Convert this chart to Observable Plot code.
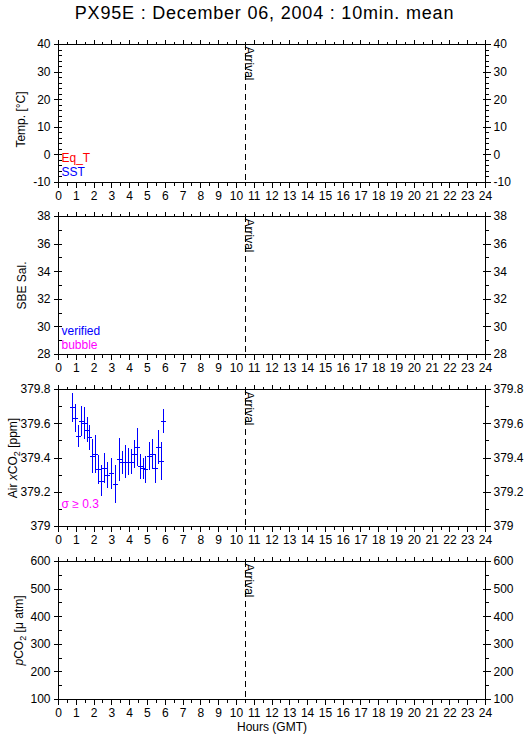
<!DOCTYPE html>
<html>
<head>
<meta charset="utf-8">
<script src="https://cdn.jsdelivr.net/npm/d3@7"></script>
<script src="https://cdn.jsdelivr.net/npm/@observablehq/plot@0.6"></script>
<style>
  body { margin: 0; background: #fff; }
  #wrap { position: relative; width: 529px; height: 739px; overflow: hidden; background: #fff;
          font-family: "Liberation Sans", Arial, Helvetica, sans-serif; }
  #title { position: absolute; left: 0; top: 3px; width: 529px; text-align: center;
           font-size: 18px; line-height: 20px; letter-spacing: 0.8px; color: #000; }
  #wrap svg { position: absolute; left: 0; }
</style>
</head>
<body>
<div id="wrap"><div id="title">PX95E : December 06, 2004 : 10min. mean</div></div>
<script>
// ---------------- data ----------------
const hourLabels = [0, 1, 2, 3, 4, 5, 6, 7, 8, 9, 10, 11, 12, 13, 14, 15, 16, 17, 18, 19, 20, 21, 22, 23, 24];
const arrivalHour = [10.5];

const tempTicks = [-10, 0, 10, 20, 30, 40];
const tempLabels = ["-10", "0", "10", "20", "30", "40"];
const salTicks = [28, 30, 32, 34, 36, 38];
const salLabels = ["28", "30", "32", "34", "36", "38"];
const xco2Ticks = [379, 379.2, 379.4, 379.6, 379.8];
const xco2Labels = ["379", "379.2", "379.4", "379.6", "379.8"];
const pco2Ticks = [100, 200, 300, 400, 500, 600];
const pco2Labels = ["100", "200", "300", "400", "500", "600"];

// Air xCO2 10-min means (hours GMT), value (ppm) and standard deviation (ppm)
const airHours = [0.80, 0.94, 1.12, 1.28, 1.44, 1.61, 1.74, 1.93, 2.08, 2.25, 2.40, 2.59, 2.75, 2.98, 3.19, 3.43,
                  3.60, 3.78, 3.95, 4.12, 4.27, 4.42, 4.61, 4.76, 4.91, 5.12, 5.28, 5.43, 5.60, 5.77, 5.92];
const airXCO2 = [379.693, 379.629, 379.527, 379.613, 379.600, 379.561, 379.518, 379.409, 379.419, 379.331, 379.265,
                 379.337, 379.298, 379.308, 379.245, 379.389, 379.372, 379.375, 379.375, 379.375, 379.419, 379.461,
                 379.350, 379.337, 379.331, 379.409, 379.419, 379.337, 379.461, 379.380, 379.613];
const airXCO2Sd = [0.084, 0.083, 0.065, 0.090, 0.092, 0.073, 0.073, 0.097, 0.112, 0.083, 0.092, 0.088, 0.078, 0.092,
                   0.112, 0.127, 0.068, 0.097, 0.078, 0.073, 0.083, 0.112, 0.073, 0.063, 0.078, 0.083, 0.088, 0.083,
                   0.097, 0.110, 0.071];

const tempLegend = [{label: "Eq_T", color: "#ff0000"}, {label: "SST", color: "#0000ff"}];
const salLegend = [{label: "verified", color: "#0000ff"}, {label: "bubble", color: "#ff00ff"}];
const xco2Legend = [{label: "σ ≥ 0.3", color: "#ff00ff"}];

// ---------------- helpers ----------------
const FONT = '"Liberation Sans", Arial, Helvetica, sans-serif';
const seg = (x1, y1, x2, y2) => ({draw(ctx) { ctx.moveTo(x1, y1); ctx.lineTo(x2, y2); }});
const tickMark = (data, opts, symbol) =>
  Plot.dot(data, {...opts, r: 1, symbol, fill: "none", stroke: "black", strokeWidth: 1});

function range(a, b, s) { const out = []; for (let v = a; v <= b + s / 1000; v += s) out.push(+v.toFixed(6)); return out; }

function richText(svg) {
  const specs = {
    "Air xCO2 [ppm]": [["Air "], ["x", "it"], ["CO"], ["2", "sub"], [" [ppm]"]],
    "pCO2 [μ atm]": [["p", "it"], ["CO"], ["2", "sub"], [" [μ atm]"]]
  };
  d3.select(svg).selectAll("text").each(function () {
    const parts = specs[this.textContent];
    if (!parts) return;
    this.textContent = "";
    let shift = 0;
    for (const [s, kind] of parts) {
      const ts = d3.select(this).append("tspan").text(s);
      if (kind === "it") ts.attr("font-style", "italic");
      if (kind === "sub") { ts.attr("font-size", 9).attr("dy", 3); shift = 3; }
      else if (shift) { ts.attr("dy", -shift); shift = 0; }
    }
  });
}

function panel(cfg) {
  const mt = 12, mb = cfg.last ? 40 : 22;
  const h = cfg.bottom - cfg.top;
  const height = mt + h + mb;
  const [y0, y1] = cfg.yDomain;
  const minorX = range(0.5, 23.5, 1);
  const marks = [
    Plot.frame({stroke: "black", strokeWidth: 1}),
    // x ticks, top (outward) and bottom (outward)
    tickMark(hourLabels, {x: d => d, frameAnchor: "top"}, seg(0, 0, 0, -5)),
    tickMark(minorX, {x: d => d, frameAnchor: "top"}, seg(0, 0, 0, -3)),
    tickMark(hourLabels, {x: d => d, frameAnchor: "bottom"}, seg(0, 0, 0, 5)),
    tickMark(minorX, {x: d => d, frameAnchor: "bottom"}, seg(0, 0, 0, 3)),
    // y ticks left and right
    tickMark(cfg.yMinor, {y: d => d, frameAnchor: "left"}, seg(0, 0, 3, 0)),
    tickMark(cfg.yTicks, {y: d => d, frameAnchor: "left"}, seg(-5, 0, 3, 0)),
    tickMark(cfg.yMinor, {y: d => d, frameAnchor: "right"}, seg(0, 0, 3, 0)),
    tickMark(cfg.yTicks, {y: d => d, frameAnchor: "right"}, seg(-3, 0, 5, 0)),
    // x tick labels
    Plot.text(hourLabels, {x: d => d, frameAnchor: "bottom", dy: 14, lineAnchor: "middle", textAnchor: "middle",
                           text: d => String(d), fontSize: 12, fill: "black"}),
    // y tick labels
    Plot.text(cfg.yTicks, {y: d => d, frameAnchor: "left", dx: -8, textAnchor: "end", lineAnchor: "middle",
                           text: (d, i) => cfg.yLabels[i], fontSize: 12, fill: "black"}),
    Plot.text(cfg.yTicks, {y: d => d, frameAnchor: "right", dx: 8, textAnchor: "start", lineAnchor: "middle",
                           text: (d, i) => cfg.yLabels[i], fontSize: 12, fill: "black"}),
    // y title
    Plot.text([cfg.yTitle], {frameAnchor: "left", dx: cfg.titleX - 58, dy: cfg.titleDy || 0, rotate: -90,
                             textAnchor: "middle", lineAnchor: "middle",
                             text: d => d, fontSize: 12, fill: "black"}),
    // arrival line + label
    Plot.ruleX(arrivalHour, {x: d => d, stroke: "black", strokeWidth: 1, strokeDasharray: "6,4"}),
    Plot.text(["Arrival"], {x: () => arrivalHour[0], frameAnchor: "top", rotate: 90, textAnchor: "start",
                            lineAnchor: "bottom", dy: 2, dx: 0, text: d => d, fontSize: 12, fill: "black"})
  ];
  (cfg.legend || []).forEach((it, i) => {
    marks.push(Plot.text([it.label], {frameAnchor: "bottom-left", dx: 3, dy: cfg.legendDy[i],
                                     textAnchor: "start", lineAnchor: "middle",
                                     text: d => d, fontSize: 12, fill: it.color}));
  });
  if (cfg.series) marks.push(...cfg.series);
  if (cfg.last) {
    marks.push(Plot.text(["Hours (GMT)"], {frameAnchor: "bottom", dy: 28, lineAnchor: "middle", textAnchor: "middle",
                                           text: d => d, fontSize: 12, fill: "black"}));
  }
  const svg = Plot.plot({
    width: 529, height,
    marginLeft: 58, marginRight: 44, marginTop: mt, marginBottom: mb,
    x: {domain: [0, 24], axis: null},
    y: {domain: [y0, y1], axis: null},
    style: {background: "transparent", fontFamily: FONT, fontSize: "12px", color: "black",
            overflow: "visible", shapeRendering: "crispEdges"},
    marks
  });
  svg.style.top = (cfg.top - mt) + "px";
  svg.style.position = "absolute";
  richText(svg);
  document.getElementById("wrap").appendChild(svg);
}

const airRows = airHours.map((t, i) => ({t, v: airXCO2[i], sd: airXCO2Sd[i]}));

panel({top: 44, bottom: 182, yDomain: [-10, 40], yTicks: tempTicks, yLabels: tempLabels,
       yMinor: range(-10, 40, 2), yTitle: "Temp. [°C]", titleX: 21, titleDy: 6,
       legend: tempLegend, legendDy: [-24, -10]});
panel({top: 216, bottom: 354, yDomain: [28, 38], yTicks: salTicks, yLabels: salLabels,
       yMinor: range(28, 38, 1), yTitle: "SBE Sal.", titleX: 22,
       legend: salLegend, legendDy: [-23, -9]});
panel({top: 389, bottom: 526, yDomain: [379, 379.8], yTicks: xco2Ticks, yLabels: xco2Labels,
       yMinor: range(379, 379.8, 0.1), yTitle: "Air xCO2 [ppm]", titleX: 13,
       legend: xco2Legend, legendDy: [-22],
       series: [
         Plot.ruleX(airRows, {x: "t", y1: d => d.v - d.sd, y2: d => d.v + d.sd, stroke: "#0000ff", strokeWidth: 1}),
         Plot.dot(airRows, {x: "t", y: "v", r: 1, symbol: seg(-2.5, 0, 2.5, 0), fill: "none",
                            stroke: "#0000ff", strokeWidth: 1})
       ]});
panel({top: 561, bottom: 699, yDomain: [100, 600], yTicks: pco2Ticks, yLabels: pco2Labels,
       yMinor: range(100, 600, 50), yTitle: "pCO2 [μ atm]", titleX: 19, last: true});
</script>
</body>
</html>
